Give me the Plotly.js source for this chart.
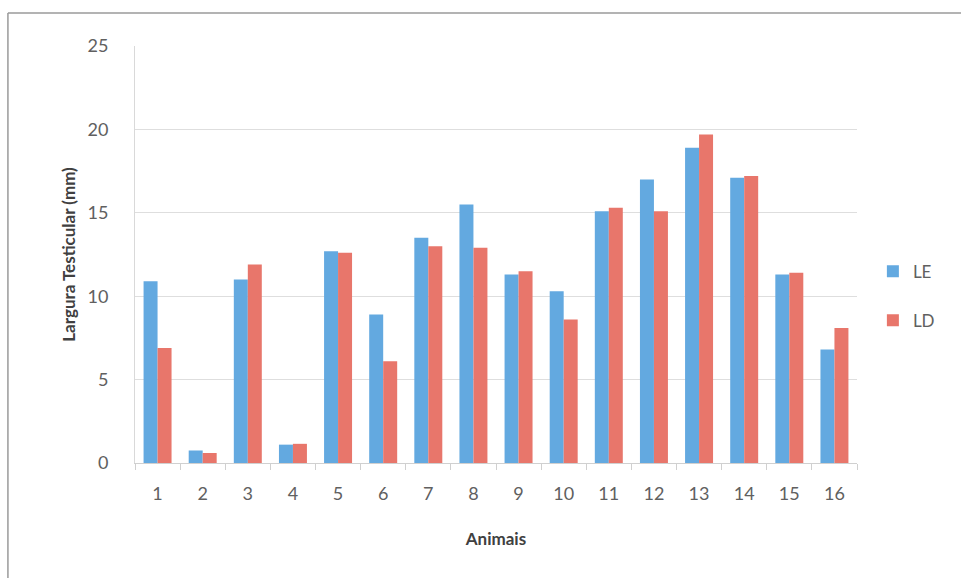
<!DOCTYPE html>
<html>
<head>
<meta charset="utf-8">
<script src="https://cdn.plot.ly/plotly-3.0.1.min.js"></script>
<style>
  html, body { margin: 0; padding: 0; background: #fff; }
  #chart { width: 961px; height: 578px; }
</style>
</head>
<body>
<div id="chart"></div>
<script>
// Largura testicular por animal (mm): lado esquerdo (LE) e lado direito (LD)
const animais = ['1','2','3','4','5','6','7','8','9','10','11','12','13','14','15','16'];
const le = [10.9, 0.75, 11.0, 1.1, 12.7, 8.9, 13.5, 15.5, 11.3, 10.3, 15.1, 17.0, 18.9, 17.1, 11.3, 6.8];
const ld = [6.9, 0.6, 11.9, 1.15, 12.6, 6.1, 13.0, 12.9, 11.5, 8.6, 15.3, 15.1, 19.7, 17.2, 11.4, 8.1];
const yTicks = [0, 5, 10, 15, 20, 25];

const fontFamily = 'Lato, "Open Sans", "DejaVu Sans", sans-serif';

const traces = [
  { type: 'bar', name: 'LE', x: animais, y: le, legendgroup: 'a',
    marker: { color: '#63a9e0' } },
  { type: 'bar', name: 'LD', x: animais, y: ld, legendgroup: 'b',
    marker: { color: '#e8766b' } }
];

const layout = {
  width: 961,
  height: 578,
  paper_bgcolor: '#ffffff',
  plot_bgcolor: '#ffffff',
  margin: { l: 135, r: 104, t: 46, b: 115 },
  barmode: 'group',
  bargap: 0.38,
  bargroupgap: 0,
  font: { family: fontFamily, color: '#606060', size: 18 },
  xaxis: {
    type: 'category',
    title: { text: '<b>Animais</b>', font: { size: 17, color: '#404040' }, standoff: 30 },
    showline: true,
    linecolor: '#d0d0d0',
    linewidth: 1,
    ticks: 'outside',
    tickson: 'boundaries',
    ticklen: 6,
    tickcolor: '#d0d0d0',
    showgrid: false,
    ticklabelstandoff: 14
  },
  yaxis: {
    range: [0, 25],
    tickvals: yTicks,
    title: { text: '<b>Largura Testicular (mm)</b>', font: { size: 17, color: '#404040' }, standoff: 7 },
    showline: true,
    linecolor: '#d9d9d9',
    showgrid: true,
    gridcolor: '#dedede',
    gridwidth: 1,
    zeroline: false,
    ticks: '',
    ticklabelstandoff: 22
  },
  showlegend: true,
  legend: {
    x: 1.022,
    y: 0.40,
    xanchor: 'left',
    yanchor: 'middle',
    traceorder: 'grouped',
    tracegroupgap: 24,
    font: { size: 17, color: '#606060' },
    itemwidth: 30
  },
  shapes: [
    { type: 'line', xref: 'paper', yref: 'paper', x0: -0.176, x1: 1.155, y0: 1.079, y1: 1.079,
      line: { color: '#9a9a9a', width: 1.5 } },
    { type: 'line', xref: 'paper', yref: 'paper', x0: -0.176, x1: -0.176, y0: 1.079, y1: -0.4,
      line: { color: '#9a9a9a', width: 1.5 } }
  ]
};

Plotly.newPlot('chart', traces, layout, { staticPlot: true, displayModeBar: false });
</script>
</body>
</html>
